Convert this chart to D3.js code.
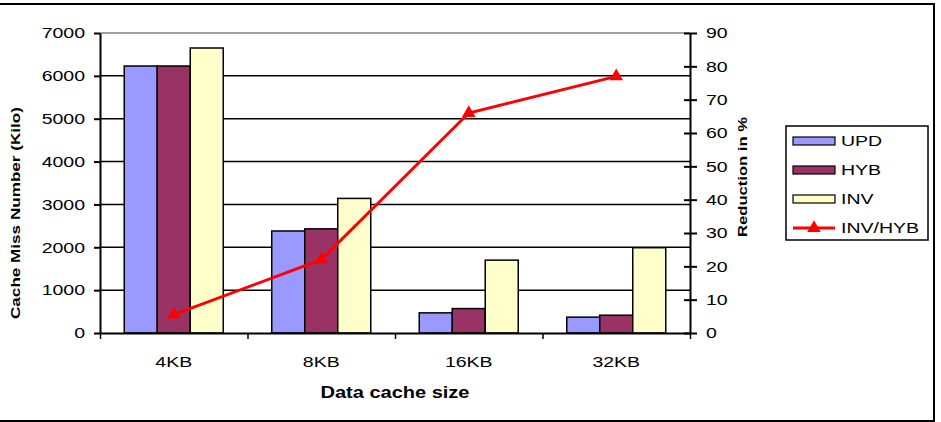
<!DOCTYPE html>
<html>
<head>
<meta charset="utf-8">
<script src="https://cdn.jsdelivr.net/npm/d3@7"></script>
<style>
  body { margin: 0; background: #fff; }
  svg { display: block; font-family: "Liberation Sans", Arial, sans-serif; }
</style>
</head>
<body>
<div id="chart-container"></div>
<script>
// Data
const categories = ["4KB", "8KB", "16KB", "32KB"];
const seriesNames = ["UPD", "HYB", "INV"];
const updValues = [6230, 2380, 470, 370];
const hybValues = [6230, 2430, 570, 415];
const invValues = [6650, 3140, 1700, 1990];
const ratioValues = [5.5, 22, 66, 77]; // INV/HYB, right axis
const leftTicks = [0, 1000, 2000, 3000, 4000, 5000, 6000, 7000];
const rightTicks = [0, 10, 20, 30, 40, 50, 60, 70, 80, 90];

const colors = { UPD: "#9999FF", HYB: "#993366", INV: "#FFFFCC" };
const lineColor = "#FF0000";

const width = 941, height = 422;
const plot = { left: 100, right: 690, top: 33, bottom: 333 };

const svg = d3.select("#chart-container")
    .append("svg")
    .attr("width", width)
    .attr("height", height);

// stretch text horizontally like the original (wide-rendered) picture
function stretch(sel, k) {
    sel.each(function () {
        const len = this.getComputedTextLength();
        if (len > 0) {
            d3.select(this).attr("textLength", len * k).attr("lengthAdjust", "spacingAndGlyphs");
        }
    });
}

// outer frame (left side falls outside the picture)
svg.append("rect")
    .attr("x", -3).attr("y", 4)
    .attr("width", 937).attr("height", 417)
    .attr("fill", "none").attr("stroke", "#000").attr("stroke-width", 2);

// scales
const x0 = d3.scaleBand().domain(categories).range([plot.left, plot.right]).padding(0);
const x1 = d3.scaleBand().domain(seriesNames).range([0, x0.bandwidth()]).paddingInner(0).paddingOuter(0.735);
const xEdge = d3.scaleLinear().domain([0, categories.length]).range([plot.left, plot.right]);
const yLeft = d3.scaleLinear().domain([0, 7000]).range([plot.bottom, plot.top]);
const yRight = d3.scaleLinear().domain([0, 90]).range([plot.bottom, plot.top]);

// gridlines
svg.append("g")
    .selectAll("line")
    .data(leftTicks.filter((d) => d > 0))
    .join("line")
    .attr("x1", plot.left).attr("x2", plot.right)
    .attr("y1", (d) => yLeft(d)).attr("y2", (d) => yLeft(d))
    .attr("stroke", (d) => d === 7000 ? "#808080" : "#000")
    .attr("stroke-width", 1.5);

// bars
const rows = categories.map((c, i) => ({
    cat: c,
    values: [
        { key: "UPD", value: updValues[i] },
        { key: "HYB", value: hybValues[i] },
        { key: "INV", value: invValues[i] }
    ]
}));

svg.append("g")
    .selectAll("g")
    .data(rows)
    .join("g")
    .attr("transform", (d) => `translate(${x0(d.cat)},0)`)
    .selectAll("rect")
    .data((d) => d.values)
    .join("rect")
    .attr("x", (d) => x1(d.key))
    .attr("y", (d) => yLeft(d.value))
    .attr("width", x1.bandwidth())
    .attr("height", (d) => yLeft(0) - yLeft(d.value))
    .attr("fill", (d) => colors[d.key])
    .attr("stroke", "#000")
    .attr("stroke-width", 1.5);

// left axis
const leftAxis = svg.append("g")
    .attr("transform", `translate(${plot.left},0)`)
    .call(d3.axisLeft(yLeft).tickValues(leftTicks).tickFormat(d3.format("d")).tickSize(6).tickPadding(9).tickSizeOuter(0));
leftAxis.select(".domain").attr("stroke-width", 2);
leftAxis.selectAll(".tick line").attr("stroke-width", 2);
leftAxis.selectAll("text").style("font-size", "15px").attr("fill", "#000").call(stretch, 1.3);

// right axis (ticks cross the axis)
const rightAxis = svg.append("g")
    .attr("transform", `translate(${plot.right},0)`)
    .call(d3.axisRight(yRight).tickValues(rightTicks).tickSize(7).tickPadding(9).tickSizeOuter(0));
rightAxis.select(".domain").attr("stroke-width", 2);
rightAxis.selectAll(".tick line").attr("x1", -6).attr("stroke-width", 2);
rightAxis.selectAll("text").style("font-size", "15px").attr("fill", "#000").call(stretch, 1.3);

// bottom axis: boundary ticks
const bottomAxis = svg.append("g")
    .attr("transform", `translate(0,${plot.bottom})`)
    .call(d3.axisBottom(xEdge).tickValues(d3.range(categories.length + 1)).tickFormat("").tickSize(6).tickSizeOuter(0));
bottomAxis.select(".domain").attr("stroke-width", 2);
bottomAxis.selectAll(".tick line").attr("stroke-width", 1.5);

// bottom axis: category labels
const catAxis = svg.append("g")
    .attr("transform", `translate(0,${plot.bottom})`)
    .call(d3.axisBottom(x0).tickSize(0).tickPadding(23));
catAxis.select(".domain").remove();
catAxis.selectAll("text").style("font-size", "15px").attr("fill", "#000").call(stretch, 1.3);

// INV/HYB line
const lineGen = d3.line()
    .x((d, i) => x0(categories[i]) + x0.bandwidth() / 2)
    .y((d) => yRight(d));

svg.append("path")
    .datum(ratioValues)
    .attr("d", lineGen)
    .attr("fill", "none")
    .attr("stroke", lineColor)
    .attr("stroke-width", 3);

const triangle = d3.symbol(d3.symbolTriangle, 80);
svg.append("g")
    .selectAll("path")
    .data(ratioValues)
    .join("path")
    .attr("d", triangle)
    .attr("transform", (d, i) => `translate(${x0(categories[i]) + x0.bandwidth() / 2},${yRight(d)})`)
    .attr("fill", lineColor);

// axis titles
const leftTitle = svg.append("text")
    .attr("transform", `translate(20,${(plot.top + plot.bottom) / 2 + 30}) rotate(-90)`)
    .attr("text-anchor", "middle")
    .style("font-size", "13px")
    .style("font-weight", "bold")
    .text("Cache Miss Number (Kilo)");
leftTitle.attr("textLength", 212).attr("lengthAdjust", "spacingAndGlyphs");

const rightTitle = svg.append("text")
    .attr("transform", `translate(747,177) rotate(-90)`)
    .attr("text-anchor", "middle")
    .style("font-size", "13px")
    .style("font-weight", "bold")
    .text("Reduction in %");
rightTitle.attr("textLength", 120).attr("lengthAdjust", "spacingAndGlyphs");

svg.append("text")
    .attr("x", (plot.left + plot.right) / 2)
    .attr("y", 398)
    .attr("text-anchor", "middle")
    .style("font-size", "16px")
    .style("font-weight", "bold")
    .text("Data cache size")
    .call(stretch, 1.25);

// legend
const legend = svg.append("g").attr("transform", "translate(786,126)");
legend.append("rect")
    .attr("width", 142).attr("height", 114)
    .attr("fill", "#fff").attr("stroke", "#000").attr("stroke-width", 1.5);

const legendItems = seriesNames.concat(["INV/HYB"]);
const ly = d3.scalePoint().domain(legendItems).range([15, 102]);

legend.selectAll(".swatch")
    .data(seriesNames)
    .join("rect")
    .attr("class", "swatch")
    .attr("x", 7).attr("y", (d) => ly(d) - 4)
    .attr("width", 42).attr("height", 8)
    .attr("fill", (d) => colors[d])
    .attr("stroke", "#000").attr("stroke-width", 1.2);

legend.append("line")
    .attr("x1", 7).attr("x2", 49)
    .attr("y1", ly("INV/HYB")).attr("y2", ly("INV/HYB"))
    .attr("stroke", lineColor).attr("stroke-width", 3);
legend.append("path")
    .attr("d", triangle)
    .attr("transform", `translate(28,${ly("INV/HYB")})`)
    .attr("fill", lineColor);

legend.selectAll(".label")
    .data(legendItems)
    .join("text")
    .attr("class", "label")
    .attr("x", 55)
    .attr("y", (d) => ly(d))
    .attr("dy", "0.35em")
    .style("font-size", "15px")
    .text((d) => d)
    .call(stretch, 1.3);
</script>
</body>
</html>
